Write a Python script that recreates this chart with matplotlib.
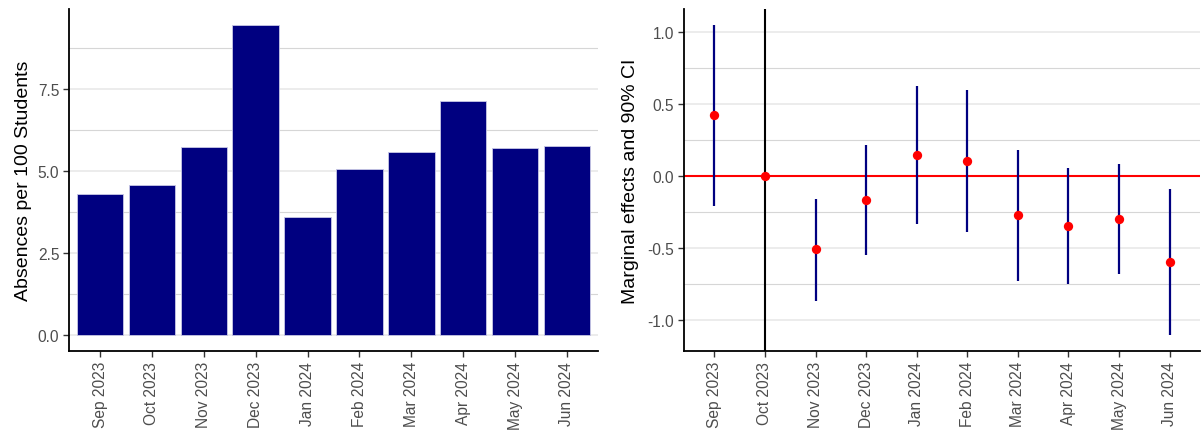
import numpy as np
import matplotlib
matplotlib.use('Agg')
import matplotlib.pyplot as plt

plt.rcParams['font.family'] = ['Liberation Sans', 'DejaVu Sans']
plt.rcParams['axes.unicode_minus'] = False

months = ['Sep 2023', 'Oct 2023', 'Nov 2023', 'Dec 2023', 'Jan 2024',
          'Feb 2024', 'Mar 2024', 'Apr 2024', 'May 2024', 'Jun 2024']

# absences per 100 students
absences = [4.31, 4.58, 5.74, 9.47, 3.61, 5.08, 5.60, 7.13, 5.71, 5.77]

# marginal effects with 90% CI (Oct 2023 is the reference month)
effect = [0.42, 0.0, -0.51, -0.17, 0.145, 0.10, -0.275, -0.35, -0.30, -0.60]
ci_low = [-0.21, np.nan, -0.87, -0.55, -0.335, -0.39, -0.735, -0.755, -0.68, -1.11]
ci_high = [1.05, np.nan, -0.165, 0.21, 0.625, 0.595, 0.18, 0.055, 0.08, -0.095]

left_ticks = [0.0, 2.5, 5.0, 7.5]
right_ticks = [-1.0, -0.5, 0.0, 0.5, 1.0]

W, H = 1203, 439
fig = plt.figure(figsize=(W / 100, H / 100), dpi=100)
ax1 = fig.add_axes([69 / W, (H - 352) / H, (598 - 69) / W, (352 - 10) / H])
ax2 = fig.add_axes([684 / W, (H - 352) / H, (1200 - 684) / W, (352 - 10) / H])

x = np.arange(len(months))


def style(ax, ticks, lo, hi):
    ax.set_yticks(ticks)
    ax.set_yticklabels([f'{t:.1f}' for t in ticks])
    step = ticks[1] - ticks[0]
    ax.set_yticks([t + step / 2 for t in ticks[:-1]] + [ticks[0] - step / 2, ticks[-1] + step / 2], minor=True)
    ax.yaxis.grid(True, which='major', color='#ebebeb', linewidth=1.3)
    ax.yaxis.grid(True, which='minor', color='#d6d6d6', linewidth=0.8)
    ax.set_axisbelow(True)
    ax.tick_params(axis='y', which='minor', length=0)
    ax.set_xticks(x)
    ax.set_xticklabels(months, rotation=90)
    ax.tick_params(which='major', length=4, width=1, color='#333333',
                   labelsize=11.2, labelcolor='#4d4d4d', pad=3)
    for s in ['top', 'right']:
        ax.spines[s].set_visible(False)
    for s in ['left', 'bottom']:
        ax.spines[s].set_linewidth(1.3)
        ax.spines[s].set_color('black')
    span = hi - lo
    ax.set_xlim(-0.6, len(months) - 0.4)
    ax.set_ylim(lo - 0.05 * span, hi + 0.05 * span)


# left panel: bars
ax1.bar(x, absences, width=0.9, color='#000080', edgecolor='#c8c8e6', linewidth=0.6, zorder=2)
style(ax1, left_ticks, 0, max(absences))
ax1.set_ylabel('Absences per 100 Students', fontsize=14, labelpad=4)

# right panel: effects with CI
ax2.axvline(1, color='black', linewidth=1.5, zorder=2)
ax2.axhline(0, color='red', linewidth=1.5, zorder=2)
ax2.vlines(x, ci_low, ci_high, color='#000080', linewidth=1.6, zorder=3)
ax2.scatter(x, effect, s=45, color='red', zorder=4, linewidths=0)
style(ax2, right_ticks, np.nanmin(ci_low), np.nanmax(ci_high))
ax2.set_ylabel('Marginal effects and 90% CI', fontsize=14, labelpad=6)

fig.savefig('out.png', dpi=100)
